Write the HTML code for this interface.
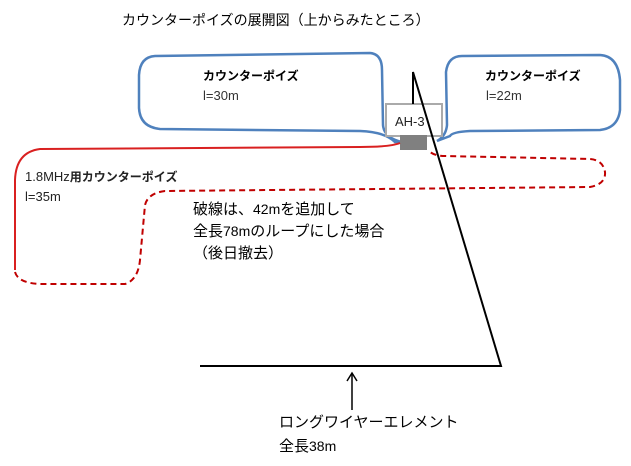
<!DOCTYPE html>
<html><head><meta charset="utf-8"><style>
body{margin:0;background:#fff;}
svg{display:block;font-family:"Liberation Sans","Noto Sans CJK JP",sans-serif;}
</style></head><body>
<svg width="631" height="466" viewBox="0 0 631 466">
<text x="122" y="25" font-size="14" fill="#000">カウンターポイズの展開図（上からみたところ）</text>
<path d="M155,56 L370,53 Q382,54 382,70 L383,125 Q384,138 402,142 L395,142 Q385,132 360,131 L160,129 Q140,127 139,108 L139,75 Q140,57 155,56 Z" fill="none" stroke="#4f81bd" stroke-width="2.5"/>
<path d="M462,56 L600,55 Q618,56 620,80 L620,110 Q618,128 600,130 L470,131 Q452,132 450,136 L437,141 Q446,136 447,125 L446,72 Q448,56 462,56 Z" fill="none" stroke="#4f81bd" stroke-width="2.5"/>
<rect x="386" y="104" width="56" height="32" fill="#fff" stroke="#aaa" stroke-width="2"/>
<text x="395" y="126" font-size="13" fill="#222">AH-3</text>
<rect x="400" y="135" width="27" height="15" fill="#808080"/>
<path d="M400,143 Q390,147 360,147 L40,149 Q16,152 15,180 L15,270" fill="none" stroke="#d92020" stroke-width="2"/>
<path d="M15,272 Q18,283 40,284 L125,284 Q138,280 140,260 L145,205 Q148,193 165,191 L590,187 Q606,184 605,172 Q603,160 590,159 L445,156 Q434,156 429,151" fill="none" stroke="#c00000" stroke-width="2" stroke-dasharray="6,4"/>
<polyline points="413,104 413,72 501,366 200,366" fill="none" stroke="#000" stroke-width="2"/>
<line x1="352" y1="410" x2="352" y2="374" stroke="#000" stroke-width="1.5"/>
<path d="M347,381 L352,373 L357,381" fill="none" stroke="#000" stroke-width="1.5"/>
<text x="203" y="80" font-size="12" font-weight="bold">カウンターポイズ</text>
<text x="203" y="100" font-size="13" fill="#333">l=30m</text>
<text x="485" y="80" font-size="12" font-weight="bold">カウンターポイズ</text>
<text x="486" y="100" font-size="13" fill="#333">l=22m</text>
<text x="25" y="181" font-size="13" fill="#222">1.8MHz<tspan font-weight="bold" font-size="12">用カウンターポイズ</tspan></text>
<text x="25" y="201" font-size="13" fill="#222">l=35m</text>
<text x="193" y="214" font-size="15">破線は、<tspan font-size="14">42m</tspan>を追加して</text>
<text x="193" y="236" font-size="15">全長<tspan font-size="14">78m</tspan>のループにした場合</text>
<text x="193" y="258" font-size="15">（後日撤去）</text>
<text x="279" y="427" font-size="15">ロングワイヤーエレメント</text>
<text x="279" y="451" font-size="15">全長<tspan font-size="14">38m</tspan></text>
</svg>
</body></html>
